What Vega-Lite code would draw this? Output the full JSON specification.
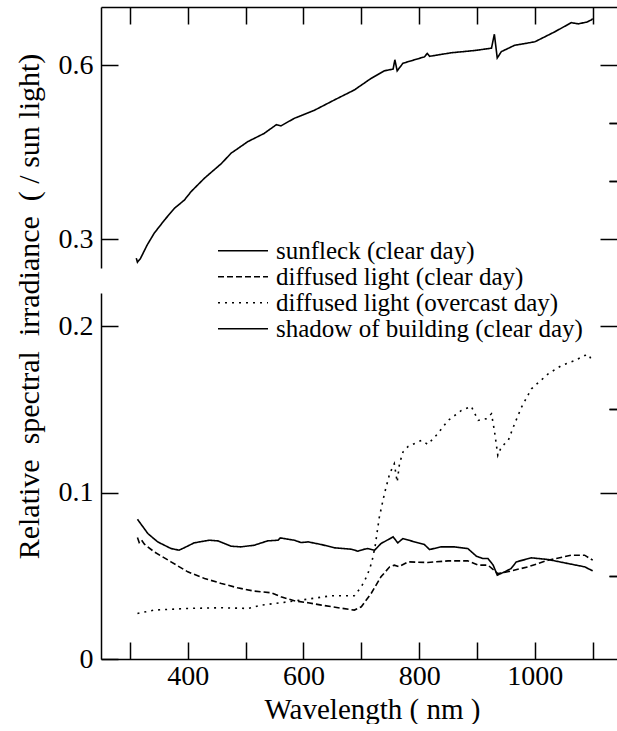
{
  "$schema": "https://vega.github.io/schema/vega-lite/v6.json",
  "background": "white",
  "padding": {"left": 13, "top": 6, "right": 0, "bottom": 0},
  "config": {
    "view": {"stroke": null},
    "font": "Liberation Serif",
    "axis": {
      "grid": false,
      "domainColor": "black",
      "domainWidth": 1.5,
      "tickColor": "black",
      "tickWidth": 1.5,
      "labelColor": "black",
      "labelFont": "Liberation Serif",
      "labelFontSize": 28,
      "labelFlush": false,
      "labelOverlap": false,
      "titleFont": "Liberation Serif",
      "titleFontSize": 28,
      "titleFontWeight": "normal",
      "titleColor": "black"
    },
    "legend": {
      "labelFont": "Liberation Serif",
      "labelFontSize": 25
    }
  },
  "datasets": {
    "spectra": [
      {"series": "sunfleck (clear day)", "wavelength": 311, "irradiance": 0.267},
      {"series": "sunfleck (clear day)", "wavelength": 313, "irradiance": 0.260},
      {"series": "sunfleck (clear day)", "wavelength": 318, "irradiance": 0.266},
      {"series": "sunfleck (clear day)", "wavelength": 330, "irradiance": 0.290},
      {"series": "sunfleck (clear day)", "wavelength": 342, "irradiance": 0.310},
      {"series": "sunfleck (clear day)", "wavelength": 360, "irradiance": 0.333},
      {"series": "sunfleck (clear day)", "wavelength": 377, "irradiance": 0.353},
      {"series": "sunfleck (clear day)", "wavelength": 394, "irradiance": 0.367},
      {"series": "sunfleck (clear day)", "wavelength": 406, "irradiance": 0.382},
      {"series": "sunfleck (clear day)", "wavelength": 429, "irradiance": 0.405},
      {"series": "sunfleck (clear day)", "wavelength": 458, "irradiance": 0.430},
      {"series": "sunfleck (clear day)", "wavelength": 475, "irradiance": 0.448},
      {"series": "sunfleck (clear day)", "wavelength": 504, "irradiance": 0.468},
      {"series": "sunfleck (clear day)", "wavelength": 532, "irradiance": 0.482},
      {"series": "sunfleck (clear day)", "wavelength": 553, "irradiance": 0.497},
      {"series": "sunfleck (clear day)", "wavelength": 561, "irradiance": 0.495},
      {"series": "sunfleck (clear day)", "wavelength": 584, "irradiance": 0.508},
      {"series": "sunfleck (clear day)", "wavelength": 619, "irradiance": 0.522},
      {"series": "sunfleck (clear day)", "wavelength": 654, "irradiance": 0.540},
      {"series": "sunfleck (clear day)", "wavelength": 688, "irradiance": 0.557},
      {"series": "sunfleck (clear day)", "wavelength": 717, "irradiance": 0.577},
      {"series": "sunfleck (clear day)", "wavelength": 740, "irradiance": 0.590},
      {"series": "sunfleck (clear day)", "wavelength": 755, "irradiance": 0.593},
      {"series": "sunfleck (clear day)", "wavelength": 758, "irradiance": 0.609},
      {"series": "sunfleck (clear day)", "wavelength": 762, "irradiance": 0.590},
      {"series": "sunfleck (clear day)", "wavelength": 772, "irradiance": 0.603},
      {"series": "sunfleck (clear day)", "wavelength": 809, "irradiance": 0.614},
      {"series": "sunfleck (clear day)", "wavelength": 814, "irradiance": 0.620},
      {"series": "sunfleck (clear day)", "wavelength": 818, "irradiance": 0.615},
      {"series": "sunfleck (clear day)", "wavelength": 855, "irradiance": 0.621},
      {"series": "sunfleck (clear day)", "wavelength": 896, "irradiance": 0.625},
      {"series": "sunfleck (clear day)", "wavelength": 925, "irradiance": 0.629},
      {"series": "sunfleck (clear day)", "wavelength": 930, "irradiance": 0.653},
      {"series": "sunfleck (clear day)", "wavelength": 935, "irradiance": 0.612},
      {"series": "sunfleck (clear day)", "wavelength": 942, "irradiance": 0.623},
      {"series": "sunfleck (clear day)", "wavelength": 965, "irradiance": 0.634},
      {"series": "sunfleck (clear day)", "wavelength": 1000, "irradiance": 0.640},
      {"series": "sunfleck (clear day)", "wavelength": 1034, "irradiance": 0.657},
      {"series": "sunfleck (clear day)", "wavelength": 1063, "irradiance": 0.673},
      {"series": "sunfleck (clear day)", "wavelength": 1075, "irradiance": 0.671},
      {"series": "sunfleck (clear day)", "wavelength": 1090, "irradiance": 0.674},
      {"series": "sunfleck (clear day)", "wavelength": 1098, "irradiance": 0.678},
      {"series": "sunfleck (clear day)", "wavelength": 1100, "irradiance": 0.680},

      {"series": "diffused light (clear day)", "wavelength": 313, "irradiance": 0.0730},
      {"series": "diffused light (clear day)", "wavelength": 316, "irradiance": 0.0700},
      {"series": "diffused light (clear day)", "wavelength": 320, "irradiance": 0.0715},
      {"series": "diffused light (clear day)", "wavelength": 325, "irradiance": 0.0690},
      {"series": "diffused light (clear day)", "wavelength": 342, "irradiance": 0.0644},
      {"series": "diffused light (clear day)", "wavelength": 371, "irradiance": 0.0584},
      {"series": "diffused light (clear day)", "wavelength": 400, "irradiance": 0.0524},
      {"series": "diffused light (clear day)", "wavelength": 429, "irradiance": 0.0484},
      {"series": "diffused light (clear day)", "wavelength": 458, "irradiance": 0.0454},
      {"series": "diffused light (clear day)", "wavelength": 486, "irradiance": 0.0428},
      {"series": "diffused light (clear day)", "wavelength": 515, "irradiance": 0.0408},
      {"series": "diffused light (clear day)", "wavelength": 544, "irradiance": 0.0398},
      {"series": "diffused light (clear day)", "wavelength": 561, "irradiance": 0.0374},
      {"series": "diffused light (clear day)", "wavelength": 584, "irradiance": 0.0350},
      {"series": "diffused light (clear day)", "wavelength": 608, "irradiance": 0.0338},
      {"series": "diffused light (clear day)", "wavelength": 631, "irradiance": 0.0324},
      {"series": "diffused light (clear day)", "wavelength": 660, "irradiance": 0.0308},
      {"series": "diffused light (clear day)", "wavelength": 688, "irradiance": 0.0294},
      {"series": "diffused light (clear day)", "wavelength": 700, "irradiance": 0.0314},
      {"series": "diffused light (clear day)", "wavelength": 717, "irradiance": 0.0394},
      {"series": "diffused light (clear day)", "wavelength": 734, "irradiance": 0.0494},
      {"series": "diffused light (clear day)", "wavelength": 749, "irradiance": 0.0554},
      {"series": "diffused light (clear day)", "wavelength": 757, "irradiance": 0.0564},
      {"series": "diffused light (clear day)", "wavelength": 765, "irradiance": 0.0555},
      {"series": "diffused light (clear day)", "wavelength": 781, "irradiance": 0.0584},
      {"series": "diffused light (clear day)", "wavelength": 815, "irradiance": 0.0580},
      {"series": "diffused light (clear day)", "wavelength": 850, "irradiance": 0.0590},
      {"series": "diffused light (clear day)", "wavelength": 884, "irradiance": 0.0590},
      {"series": "diffused light (clear day)", "wavelength": 902, "irradiance": 0.0564},
      {"series": "diffused light (clear day)", "wavelength": 919, "irradiance": 0.0564},
      {"series": "diffused light (clear day)", "wavelength": 936, "irradiance": 0.0514},
      {"series": "diffused light (clear day)", "wavelength": 953, "irradiance": 0.0524},
      {"series": "diffused light (clear day)", "wavelength": 988, "irradiance": 0.0554},
      {"series": "diffused light (clear day)", "wavelength": 1023, "irradiance": 0.0594},
      {"series": "diffused light (clear day)", "wavelength": 1063, "irradiance": 0.0624},
      {"series": "diffused light (clear day)", "wavelength": 1086, "irradiance": 0.0624},
      {"series": "diffused light (clear day)", "wavelength": 1100, "irradiance": 0.0594},

      {"series": "diffused light (overcast day)", "wavelength": 313, "irradiance": 0.0274},
      {"series": "diffused light (overcast day)", "wavelength": 342, "irradiance": 0.0294},
      {"series": "diffused light (overcast day)", "wavelength": 400, "irradiance": 0.0304},
      {"series": "diffused light (overcast day)", "wavelength": 458, "irradiance": 0.0308},
      {"series": "diffused light (overcast day)", "wavelength": 504, "irradiance": 0.0304},
      {"series": "diffused light (overcast day)", "wavelength": 527, "irradiance": 0.0324},
      {"series": "diffused light (overcast day)", "wavelength": 561, "irradiance": 0.0338},
      {"series": "diffused light (overcast day)", "wavelength": 608, "irradiance": 0.0360},
      {"series": "diffused light (overcast day)", "wavelength": 648, "irradiance": 0.0380},
      {"series": "diffused light (overcast day)", "wavelength": 688, "irradiance": 0.0380},
      {"series": "diffused light (overcast day)", "wavelength": 700, "irradiance": 0.0434},
      {"series": "diffused light (overcast day)", "wavelength": 710, "irradiance": 0.0500},
      {"series": "diffused light (overcast day)", "wavelength": 718, "irradiance": 0.0580},
      {"series": "diffused light (overcast day)", "wavelength": 724, "irradiance": 0.0680},
      {"series": "diffused light (overcast day)", "wavelength": 731, "irradiance": 0.0850},
      {"series": "diffused light (overcast day)", "wavelength": 740, "irradiance": 0.0994},
      {"series": "diffused light (overcast day)", "wavelength": 749, "irradiance": 0.1114},
      {"series": "diffused light (overcast day)", "wavelength": 757, "irradiance": 0.1174},
      {"series": "diffused light (overcast day)", "wavelength": 762, "irradiance": 0.1064},
      {"series": "diffused light (overcast day)", "wavelength": 766, "irradiance": 0.1174},
      {"series": "diffused light (overcast day)", "wavelength": 772, "irradiance": 0.1244},
      {"series": "diffused light (overcast day)", "wavelength": 781, "irradiance": 0.1278},
      {"series": "diffused light (overcast day)", "wavelength": 804, "irradiance": 0.1314},
      {"series": "diffused light (overcast day)", "wavelength": 815, "irradiance": 0.1290},
      {"series": "diffused light (overcast day)", "wavelength": 832, "irradiance": 0.1354},
      {"series": "diffused light (overcast day)", "wavelength": 850, "irradiance": 0.1434},
      {"series": "diffused light (overcast day)", "wavelength": 873, "irradiance": 0.1494},
      {"series": "diffused light (overcast day)", "wavelength": 890, "irradiance": 0.1519},
      {"series": "diffused light (overcast day)", "wavelength": 902, "irradiance": 0.1434},
      {"series": "diffused light (overcast day)", "wavelength": 916, "irradiance": 0.1444},
      {"series": "diffused light (overcast day)", "wavelength": 925, "irradiance": 0.1474},
      {"series": "diffused light (overcast day)", "wavelength": 930, "irradiance": 0.1374},
      {"series": "diffused light (overcast day)", "wavelength": 936, "irradiance": 0.1224},
      {"series": "diffused light (overcast day)", "wavelength": 942, "irradiance": 0.1274},
      {"series": "diffused light (overcast day)", "wavelength": 954, "irradiance": 0.1314},
      {"series": "diffused light (overcast day)", "wavelength": 965, "irradiance": 0.1414},
      {"series": "diffused light (overcast day)", "wavelength": 977, "irradiance": 0.1514},
      {"series": "diffused light (overcast day)", "wavelength": 994, "irradiance": 0.1624},
      {"series": "diffused light (overcast day)", "wavelength": 1023, "irradiance": 0.1714},
      {"series": "diffused light (overcast day)", "wavelength": 1046, "irradiance": 0.1764},
      {"series": "diffused light (overcast day)", "wavelength": 1069, "irradiance": 0.1794},
      {"series": "diffused light (overcast day)", "wavelength": 1086, "irradiance": 0.1824},
      {"series": "diffused light (overcast day)", "wavelength": 1093, "irradiance": 0.1830},
      {"series": "diffused light (overcast day)", "wavelength": 1100, "irradiance": 0.1784},

      {"series": "shadow of building (clear day)", "wavelength": 313, "irradiance": 0.0840},
      {"series": "shadow of building (clear day)", "wavelength": 331, "irradiance": 0.0754},
      {"series": "shadow of building (clear day)", "wavelength": 348, "irradiance": 0.0704},
      {"series": "shadow of building (clear day)", "wavelength": 371, "irradiance": 0.0664},
      {"series": "shadow of building (clear day)", "wavelength": 385, "irradiance": 0.0654},
      {"series": "shadow of building (clear day)", "wavelength": 397, "irradiance": 0.0674},
      {"series": "shadow of building (clear day)", "wavelength": 411, "irradiance": 0.0698},
      {"series": "shadow of building (clear day)", "wavelength": 437, "irradiance": 0.0714},
      {"series": "shadow of building (clear day)", "wavelength": 452, "irradiance": 0.0710},
      {"series": "shadow of building (clear day)", "wavelength": 475, "irradiance": 0.0678},
      {"series": "shadow of building (clear day)", "wavelength": 492, "irradiance": 0.0674},
      {"series": "shadow of building (clear day)", "wavelength": 515, "irradiance": 0.0684},
      {"series": "shadow of building (clear day)", "wavelength": 538, "irradiance": 0.0710},
      {"series": "shadow of building (clear day)", "wavelength": 556, "irradiance": 0.0714},
      {"series": "shadow of building (clear day)", "wavelength": 560, "irradiance": 0.0728},
      {"series": "shadow of building (clear day)", "wavelength": 584, "irradiance": 0.0714},
      {"series": "shadow of building (clear day)", "wavelength": 596, "irradiance": 0.0700},
      {"series": "shadow of building (clear day)", "wavelength": 608, "irradiance": 0.0704},
      {"series": "shadow of building (clear day)", "wavelength": 631, "irradiance": 0.0688},
      {"series": "shadow of building (clear day)", "wavelength": 654, "irradiance": 0.0668},
      {"series": "shadow of building (clear day)", "wavelength": 683, "irradiance": 0.0660},
      {"series": "shadow of building (clear day)", "wavelength": 694, "irradiance": 0.0648},
      {"series": "shadow of building (clear day)", "wavelength": 705, "irradiance": 0.0660},
      {"series": "shadow of building (clear day)", "wavelength": 711, "irradiance": 0.0664},
      {"series": "shadow of building (clear day)", "wavelength": 723, "irradiance": 0.0654},
      {"series": "shadow of building (clear day)", "wavelength": 734, "irradiance": 0.0694},
      {"series": "shadow of building (clear day)", "wavelength": 755, "irradiance": 0.0734},
      {"series": "shadow of building (clear day)", "wavelength": 763, "irradiance": 0.0698},
      {"series": "shadow of building (clear day)", "wavelength": 772, "irradiance": 0.0724},
      {"series": "shadow of building (clear day)", "wavelength": 786, "irradiance": 0.0710},
      {"series": "shadow of building (clear day)", "wavelength": 809, "irradiance": 0.0688},
      {"series": "shadow of building (clear day)", "wavelength": 818, "irradiance": 0.0658},
      {"series": "shadow of building (clear day)", "wavelength": 838, "irradiance": 0.0674},
      {"series": "shadow of building (clear day)", "wavelength": 861, "irradiance": 0.0674},
      {"series": "shadow of building (clear day)", "wavelength": 884, "irradiance": 0.0664},
      {"series": "shadow of building (clear day)", "wavelength": 899, "irradiance": 0.0618},
      {"series": "shadow of building (clear day)", "wavelength": 910, "irradiance": 0.0604},
      {"series": "shadow of building (clear day)", "wavelength": 919, "irradiance": 0.0604},
      {"series": "shadow of building (clear day)", "wavelength": 928, "irradiance": 0.0564},
      {"series": "shadow of building (clear day)", "wavelength": 935, "irradiance": 0.0504},
      {"series": "shadow of building (clear day)", "wavelength": 948, "irradiance": 0.0524},
      {"series": "shadow of building (clear day)", "wavelength": 959, "irradiance": 0.0544},
      {"series": "shadow of building (clear day)", "wavelength": 968, "irradiance": 0.0584},
      {"series": "shadow of building (clear day)", "wavelength": 994, "irradiance": 0.0608},
      {"series": "shadow of building (clear day)", "wavelength": 1023, "irradiance": 0.0598},
      {"series": "shadow of building (clear day)", "wavelength": 1057, "irradiance": 0.0574},
      {"series": "shadow of building (clear day)", "wavelength": 1086, "irradiance": 0.0554},
      {"series": "shadow of building (clear day)", "wavelength": 1100, "irradiance": 0.0530}
    ]
  },
  "data": {"name": "spectra"},
  "spacing": 25,
  "bounds": "flush",
  "resolve": {"scale": {"strokeDash": "shared"}, "legend": {"strokeDash": "shared"}},
  "vconcat": [
    {
      "width": 516,
      "height": 261,
      "transform": [{"filter": "datum.series === 'sunfleck (clear day)'"}],
      "resolve": {"axis": {"y": "independent"}},
      "layer": [
        {
          "mark": {"type": "line", "color": "black", "strokeWidth": 1.6},
          "encoding": {
            "x": {
              "field": "wavelength", "type": "quantitative",
              "scale": {"domain": [250, 1142], "nice": false, "zero": false},
              "axis": {"orient": "top", "values": [300, 400, 500, 600, 700, 800, 900, 1000, 1100], "tickSize": -17, "labels": false, "title": null}
            },
            "y": {
              "field": "irradiance", "type": "quantitative",
              "scale": {"domain": [0.25, 0.7], "nice": false, "zero": false},
              "axis": {"values": [0.3, 0.6], "tickSize": -17, "labelPadding": 25, "format": ".1~f", "labelFont": "Liberation Serif", "labelFontSize": 28, "title": null}
            },
            "strokeDash": {
              "field": "series", "type": "nominal",
              "scale": {
                "domain": ["sunfleck (clear day)", "diffused light (clear day)", "diffused light (overcast day)", "shadow of building (clear day)"],
                "range": [[1, 0], [6, 3], [2, 5], [1, 0]]
              },
              "legend": {
                "title": null,
                "orient": "none",
                "legendX": 116,
                "legendY": 232.5,
                "padding": 0,
                "symbolType": "stroke",
                "symbolSize": 2500,
                "symbolStrokeWidth": 1.5,
                "symbolStrokeColor": "black",
                "clipHeight": 22.7,
                "rowPadding": 0,
                "labelFont": "Liberation Serif",
                "labelFontSize": 25,
                "labelColor": "black",
                "labelOffset": 7,
                "labelLimit": 500
              }
            }
          }
        },
        {
          "mark": {"type": "rule", "strokeOpacity": 0},
          "encoding": {
            "y": {"field": "irradiance", "type": "quantitative", "axis": {"values": [0.4, 0.5], "tickSize": -8, "labels": false, "domain": false, "title": null}}
          }
        },
        {
          "mark": {"type": "rule", "strokeOpacity": 0},
          "encoding": {
            "y": {"field": "irradiance", "type": "quantitative", "axis": {"orient": "right", "values": [0.3, 0.6], "tickSize": -17, "labels": false, "domain": false, "title": null}}
          }
        },
        {
          "mark": {"type": "rule", "strokeOpacity": 0},
          "encoding": {
            "y": {"field": "irradiance", "type": "quantitative", "axis": {"orient": "right", "values": [0.4, 0.5], "tickSize": -8, "labels": false, "domain": false, "title": null}}
          }
        }
      ]
    },
    {
      "width": 516,
      "height": 366,
      "transform": [{"filter": "datum.series !== 'sunfleck (clear day)'"}],
      "resolve": {"axis": {"y": "independent"}},
      "layer": [
        {
          "mark": {"type": "line", "color": "black", "strokeWidth": 1.6},
          "encoding": {
            "x": {
              "field": "wavelength", "type": "quantitative",
              "scale": {"domain": [250, 1142], "nice": false, "zero": false},
              "axis": {
                "orient": "bottom",
                "values": [300, 400, 500, 600, 700, 800, 900, 1000, 1100],
                "format": "d",
                "labelExpr": "datum.value % 200 === 0 ? datum.label : ''",
                "tickSize": -17,
                "labelPadding": 20,
                "labelFont": "Liberation Serif",
                "labelFontSize": 28,
                "title": "Wavelength ( nm )",
                "titleFont": "Liberation Serif",
                "titleFontSize": 29,
                "titleFontWeight": "normal",
                "titleX": 271,
                "titleY": 59,
                "titleAlign": "center",
                "titleBaseline": "alphabetic"
              }
            },
            "y": {
              "field": "irradiance", "type": "quantitative",
              "scale": {"domain": [0, 0.22], "nice": false, "zero": false},
              "axis": {
                "values": [0, 0.1, 0.2],
                "tickSize": -17,
                "labelPadding": 25,
                "format": ".1~f",
                "labelFont": "Liberation Serif",
                "labelFontSize": 28,
                "title": "Relative\u00a0 spectral\u00a0 irradiance\u00a0 ( / sun light)",
                "titleFont": "Liberation Serif",
                "titleFontSize": 30,
                "titleFontWeight": "normal",
                "titleAngle": 270,
                "titleAlign": "center",
                "titleBaseline": "alphabetic",
                "titleX": -63,
                "titleY": 13
              }
            },
            "strokeDash": {
              "field": "series", "type": "nominal",
              "scale": {
                "domain": ["sunfleck (clear day)", "diffused light (clear day)", "diffused light (overcast day)", "shadow of building (clear day)"],
                "range": [[1, 0], [6, 3], [2, 5], [1, 0]]
              }
            }
          }
        },
        {
          "mark": {"type": "rule", "strokeOpacity": 0},
          "encoding": {
            "y": {"field": "irradiance", "type": "quantitative", "axis": {"values": [0.05, 0.15], "tickSize": -8, "labels": false, "domain": false, "title": null}}
          }
        },
        {
          "mark": {"type": "rule", "strokeOpacity": 0},
          "encoding": {
            "y": {"field": "irradiance", "type": "quantitative", "axis": {"orient": "right", "values": [0.1, 0.2], "tickSize": -17, "labels": false, "domain": false, "title": null}}
          }
        },
        {
          "mark": {"type": "rule", "strokeOpacity": 0},
          "encoding": {
            "y": {"field": "irradiance", "type": "quantitative", "axis": {"orient": "right", "values": [0.05, 0.15], "tickSize": -8, "labels": false, "domain": false, "title": null}}
          }
        }
      ]
    }
  ]
}
